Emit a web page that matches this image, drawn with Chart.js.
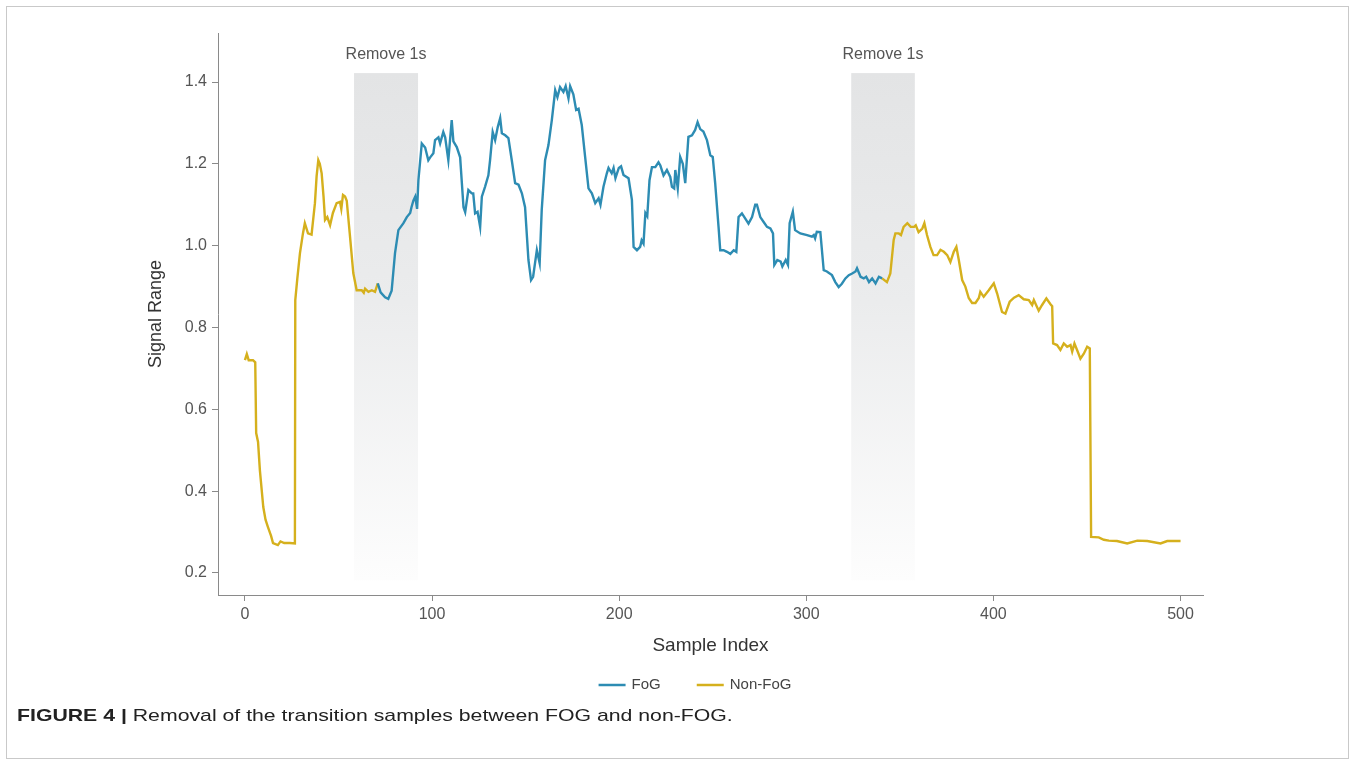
<!DOCTYPE html>
<html>
<head>
<meta charset="utf-8">
<script src="https://cdn.jsdelivr.net/npm/chart.js@4.4.1/dist/chart.umd.min.js"></script>
<style>
  html, body { margin: 0; padding: 0; background: #fff; }
  #page { position: relative; width: 1357px; height: 767px; overflow: hidden; }
  #frame { position: absolute; left: 6px; top: 6px; width: 1343px; height: 753px; border: 1px solid #c9c9c9; box-sizing: border-box; }
  #grafico { position: absolute; left: 0; top: 0; }
  #caption { position: absolute; left: 17px; top: 706px; font-family: "Liberation Sans", Arial, sans-serif; font-size: 17px; color: #222; white-space: nowrap; transform: scaleX(1.25); transform-origin: left center; }
  #caption b { font-weight: bold; }
</style>
</head>
<body>
<div id="page">
  <div id="frame"></div>
  <canvas id="grafico" width="1357" height="710"></canvas>
  <div id="caption"><b>FIGURE 4 |</b> Removal of the transition samples between FOG and non-FOG.</div>
</div>
<script>
// Datos (índice de muestra / rango de señal)
const nonFogA_x = [0, 1, 2, 4.3, 5.5, 6, 7, 8, 9.8, 11, 12.3, 14, 15, 17.6, 19, 21, 24, 26.7, 26.9, 28, 29.4, 31, 32, 33.7, 35.6, 37.4, 38.3, 39.2, 40, 41, 42, 42.8, 44, 45.5, 47, 49, 50.8, 51.5, 52.4, 53.5, 54.4, 56, 57.9, 59.7, 62.4, 63.5, 64.2, 66, 67.8, 69.5, 71];
const nonFogA_y = [0.72, 0.735, 0.72, 0.72, 0.715, 0.542, 0.52, 0.45, 0.361, 0.33, 0.312, 0.29, 0.273, 0.268, 0.277, 0.273, 0.273, 0.272, 0.867, 0.92, 0.982, 1.03, 1.055, 1.03, 1.027, 1.104, 1.17, 1.209, 1.2, 1.177, 1.12, 1.063, 1.07, 1.05, 1.08, 1.104, 1.107, 1.09, 1.124, 1.12, 1.11, 1.03, 0.933, 0.891, 0.891, 0.885, 0.895, 0.887, 0.891, 0.887, 0.908];

const fog_x = [71, 72.5, 74.9, 76.6, 77.5, 78.4, 80.2, 82, 84.7, 86.5, 88.3, 89, 90, 91, 92, 92.7, 94.5, 96.3, 98, 99, 100.7, 101.6, 103.4, 104.3, 106, 107, 108.7, 110.5, 111.4, 113.2, 115, 116.8, 117.7, 119.4, 121.2, 122, 123, 124.3, 125.7, 126.6, 128.3, 130.1, 131, 132.4, 133.7, 135.1, 136.4, 137.3, 139.1, 140.8, 142.6, 144.4, 146.2, 148, 149.7, 151.5, 152.9, 154, 156, 157.5, 158.6, 160.4, 162.2, 164, 165.8, 167, 168.4, 170.2, 171.4, 172.9, 173.8, 175.5, 177, 178.3, 180, 181.8, 183.6, 185.4, 187.2, 189, 190, 191.6, 193.4, 194.3, 196, 197, 198, 199.8, 201, 202.3, 205, 206.8, 207.7, 209.5, 211.2, 212, 213, 214, 215, 216.2, 217.5, 219.3, 221, 222, 223.7, 225.5, 227.3, 228.2, 229.4, 230, 231.3, 232.6, 234, 235.3, 237, 238.9, 240.6, 241.9, 243.3, 245, 246.9, 248.7, 250, 251.3, 253.1, 254, 255.8, 257.6, 259.4, 261.2, 262.6, 263.8, 265.6, 267.4, 269.1, 271, 272.7, 273.6, 275.4, 277.2, 279, 280.8, 282.2, 282.9, 284.5, 286.3, 287.2, 289, 290.2, 291.1, 292.8, 294, 296.8, 300.4, 303, 304, 304.7, 305.6, 307.5, 309.3, 311, 313.7, 315.5, 317.3, 319, 320.9, 322.7, 324.5, 326.3, 327.1, 329, 330.7, 332, 333.5, 335.2, 337, 338.8, 340.5];
const fog_y = [0.908, 0.886, 0.874, 0.87, 0.88, 0.89, 0.982, 1.038, 1.055, 1.07, 1.08, 1.094, 1.11, 1.12, 1.09, 1.16, 1.25, 1.24, 1.209, 1.216, 1.226, 1.258, 1.265, 1.25, 1.278, 1.265, 1.209, 1.307, 1.255, 1.241, 1.216, 1.094, 1.082, 1.136, 1.128, 1.128, 1.079, 1.083, 1.046, 1.12, 1.144, 1.172, 1.209, 1.278, 1.258, 1.29, 1.312, 1.275, 1.27, 1.263, 1.209, 1.153, 1.149, 1.128, 1.094, 0.965, 0.916, 0.924, 0.989, 0.957, 1.087, 1.209, 1.246, 1.307, 1.38, 1.363, 1.388, 1.376, 1.39, 1.36, 1.39, 1.37, 1.332, 1.335, 1.295, 1.217, 1.14, 1.128, 1.104, 1.116, 1.1, 1.144, 1.177, 1.19, 1.177, 1.19, 1.165, 1.19, 1.194, 1.173, 1.165, 1.112, 0.997, 0.989, 0.997, 1.013, 1.005, 1.08, 1.072, 1.16, 1.192, 1.192, 1.204, 1.196, 1.172, 1.185, 1.168, 1.144, 1.14, 1.185, 1.14, 1.217, 1.2, 1.153, 1.266, 1.27, 1.283, 1.302, 1.285, 1.279, 1.258, 1.221, 1.217, 1.153, 1.046, 0.989, 0.989, 0.985, 0.98, 0.989, 0.985, 1.07, 1.079, 1.066, 1.054, 1.07, 1.1, 1.1, 1.07, 1.058, 1.046, 1.042, 1.03, 0.953, 0.965, 0.961, 0.949, 0.965, 0.953, 1.055, 1.083, 1.038, 1.03, 1.026, 1.022, 1.026, 1.018, 1.034, 1.033, 0.94, 0.937, 0.928, 0.911, 0.899, 0.907, 0.92, 0.928, 0.932, 0.937, 0.945, 0.924, 0.92, 0.924, 0.911, 0.92, 0.908, 0.924, 0.92];

const nonFogB_x = [340.5, 343.1, 344.9, 346.7, 347.6, 349.4, 350.6, 352, 354, 355.8, 357.6, 358.5, 360, 362, 363.1, 364.5, 366.3, 368, 369.9, 371.7, 373.5, 375.3, 377, 378.8, 380.2, 381.5, 383.3, 385, 386.8, 388.6, 390.4, 392.2, 393, 394.8, 397.5, 400.2, 402, 404.6, 406.4, 408.7, 411, 413.5, 416.2, 418.9, 420.7, 421.6, 424.2, 426, 428.3, 430.5, 431.4, 431.9, 434, 435.8, 437.6, 439.4, 441.2, 442.1, 443.3, 444.7, 446.5, 448.3, 450.1, 451.5, 452.2, 456.3, 459, 461.7, 466, 471.5, 476.9, 482.2, 489.3, 492.9, 500];
const nonFogB_y = [0.92, 0.911, 0.932, 1.014, 1.03, 1.03, 1.026, 1.046, 1.055, 1.046, 1.046, 1.05, 1.033, 1.042, 1.055, 1.026, 0.997, 0.977, 0.977, 0.99, 0.985, 0.977, 0.96, 0.985, 0.997, 0.965, 0.916, 0.9, 0.872, 0.86, 0.86, 0.872, 0.887, 0.875, 0.891, 0.908, 0.883, 0.838, 0.834, 0.863, 0.873, 0.879, 0.869, 0.867, 0.855, 0.867, 0.841, 0.855, 0.871, 0.857, 0.852, 0.761, 0.757, 0.745, 0.761, 0.753, 0.757, 0.741, 0.761, 0.745, 0.724, 0.736, 0.753, 0.749, 0.288, 0.287, 0.281, 0.279, 0.278, 0.272, 0.279, 0.278, 0.272, 0.278, 0.278];

// Zonas eliminadas (inicio, fin en índice de muestra)
const removeBands = [[58.3, 92.5], [324, 358]];
const bandTop = 1.422;
const bandBottom = 0.182;
const bandLabel = 'Remove 1s';

const xTicks = [0, 100, 200, 300, 400, 500];
const yTicks = [0.2, 0.4, 0.6, 0.8, 1.0, 1.2, 1.4];

const colorFoG = '#2D8CB3';
const colorNonFoG = '#D5B01D';
const fuente = '"Liberation Sans", Arial, sans-serif';

const puntos = (xs, ys) => xs.map((x, i) => ({ x: x, y: ys[i] }));

// Bandas grises con degradado y etiqueta "Remove 1s"
const bandasPlugin = {
    id: 'bandas',
    beforeDatasetsDraw(chart) {
        const { ctx, scales: { x, y } } = chart;
        const top = y.getPixelForValue(bandTop);
        const bottom = y.getPixelForValue(bandBottom);
        ctx.save();
        removeBands.forEach(([a, b]) => {
            const xa = x.getPixelForValue(a);
            const xb = x.getPixelForValue(b);
            const g = ctx.createLinearGradient(0, top, 0, bottom);
            g.addColorStop(0, '#e3e4e5');
            g.addColorStop(0.45, '#ebeced');
            g.addColorStop(1, '#fdfdfd');
            ctx.fillStyle = g;
            ctx.fillRect(xa, top, xb - xa, bottom - top);
            ctx.fillStyle = '#555';
            ctx.font = '16px ' + fuente;
            ctx.textAlign = 'center';
            ctx.textBaseline = 'middle';
            ctx.fillText(bandLabel, (xa + xb) / 2, top - 18);
        });
        ctx.restore();
    }
};

// Leyenda inferior (centrada como en la figura original)
const leyendaPlugin = {
    id: 'leyenda',
    afterDraw(chart) {
        const { ctx } = chart;
        const items = chart.data.datasets.slice(0, 2);
        ctx.save();
        ctx.font = '15px ' + fuente;
        ctx.textBaseline = 'middle';
        const linea = 27, hueco = 6, sep = 36, yL = 685;
        const anchos = items.map(d => linea + hueco + ctx.measureText(d.label).width);
        const total = anchos.reduce((a, b) => a + b, 0) + sep * (items.length - 1);
        let xL = 695 - total / 2;
        items.forEach((d, i) => {
            ctx.strokeStyle = d.borderColor;
            ctx.lineWidth = 2.5;
            ctx.beginPath();
            ctx.moveTo(xL, yL);
            ctx.lineTo(xL + linea, yL);
            ctx.stroke();
            ctx.fillStyle = '#444';
            ctx.textAlign = 'left';
            ctx.fillText(d.label, xL + linea + hueco, yL);
            xL += anchos[i] + sep;
        });
        ctx.restore();
    }
};

const ejeComun = {
    type: 'linear',
    grid: { display: true, drawOnChartArea: false, drawTicks: true, tickLength: 6, color: '#8a8a8a' },
    border: { display: true, color: '#8a8a8a', width: 1 },
    ticks: { color: '#555', font: { family: fuente, size: 16 } }
};

new Chart(document.getElementById('grafico').getContext('2d'), {
    type: 'line',
    data: {
        datasets: [
            { label: 'FoG', data: puntos(fog_x, fog_y), borderColor: colorFoG, backgroundColor: colorFoG, borderWidth: 2.4, pointRadius: 0, tension: 0 },
            { label: 'Non-FoG', data: puntos(nonFogA_x, nonFogA_y), borderColor: colorNonFoG, backgroundColor: colorNonFoG, borderWidth: 2.4, pointRadius: 0, tension: 0 },
            { label: 'Non-FoG', data: puntos(nonFogB_x, nonFogB_y), borderColor: colorNonFoG, backgroundColor: colorNonFoG, borderWidth: 2.4, pointRadius: 0, tension: 0 }
        ]
    },
    options: {
        responsive: false,
        animation: false,
        devicePixelRatio: 1,
        layout: { padding: { left: 145, right: 154, top: 33, bottom: 45 } },
        plugins: {
            tooltip: { enabled: false },
            legend: { display: false }
        },
        scales: {
            x: {
                ...ejeComun,
                min: -14.4,
                max: 512,
                afterBuildTicks: (s) => { s.ticks = xTicks.map(v => ({ value: v })); },
                afterFit: (s) => { s.height = 70; },
                ticks: { ...ejeComun.ticks, padding: 4, maxRotation: 0 },
                title: { display: true, text: 'Sample Index', color: '#333', font: { family: fuente, size: 19 }, padding: { top: 0, bottom: 8 } }
            },
            y: {
                ...ejeComun,
                min: 0.146,
                max: 1.52,
                afterBuildTicks: (s) => { s.ticks = yTicks.map(v => ({ value: v })); },
                afterFit: (s) => { s.width = 73; },
                ticks: { ...ejeComun.ticks, padding: 5, callback: (v) => v.toFixed(1) },
                title: { display: true, text: 'Signal Range', color: '#333', font: { family: fuente, size: 18 }, padding: { top: 0, bottom: 0 } }
            }
        }
    },
    plugins: [bandasPlugin, leyendaPlugin]
});
</script>
</body>
</html>
